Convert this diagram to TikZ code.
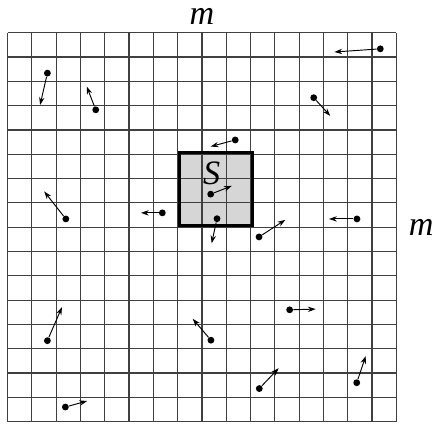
\documentclass[tikz,border=0pt]{standalone}
\usepackage{fontspec}
\setmainfont{Liberation Serif}
\usetikzlibrary{arrows.meta}

\begin{document}
\begin{tikzpicture}[x=0.5cm,y=0.5cm,pt/.style={circle,fill,inner sep=0pt,minimum size=4pt},vel/.style={-{Stealth[length=1.6mm,width=1.1mm]},line width=0.55pt},lbl/.style={font=\fontsize{20}{24}\selectfont\itshape,inner sep=0pt}]
      \useasboundingbox (-0.31,-0.095) rectangle (17.55,17.35);
      \fill[black!16] (7,8) rectangle (10,11);
      \draw[black!75,line width=0.7pt,step=0.5cm] (0,0) grid (16,16);
      \node[draw=black,line width=1.8pt,minimum size=1.5cm,inner sep=0pt,anchor=south west] (box) at (7,8) {};
      \node[lbl] (mtop) at (8,16.68) {m}; \node[lbl] (mright) at (17.02,8.0) {m}; \node[lbl] (s) at (8.4,10.2) {S};
      % particles and their velocities
      \node[pt] (p1) at (1.64,14.34) {}; \coordinate (t1) at (1.34,13.03); \node[pt] (p2) at (3.63,12.83) {}; \coordinate (t2) at (3.26,13.79);
      \node[pt] (p3) at (2.40,8.34) {}; \coordinate (t3) at (1.51,9.47); \node[pt] (p4) at (6.37,8.59) {}; \coordinate (t4) at (5.49,8.59);
      \node[pt] (p5) at (9.37,11.59) {}; \coordinate (t5) at (8.36,11.32); \node[pt] (p6) at (8.36,9.36) {}; \coordinate (t6) at (9.23,9.70);
      \node[pt] (p7) at (8.62,8.35) {}; \coordinate (t7) at (8.40,7.34); \node[pt] (p8) at (10.35,7.60) {}; \coordinate (t8) at (11.43,8.30);
      \node[pt] (p9) at (15.34,15.34) {}; \coordinate (t9) at (13.45,15.21); \node[pt] (p10) at (12.60,13.33) {}; \coordinate (t10) at (13.28,12.58);
      \node[pt] (p11) at (14.38,8.34) {}; \coordinate (t11) at (13.23,8.34); \node[pt] (p12) at (1.64,3.33) {}; \coordinate (t12) at (2.24,4.71);
      \node[pt] (p13) at (8.37,3.35) {}; \coordinate (t13) at (7.62,4.23); \node[pt] (p14) at (2.38,0.60) {}; \coordinate (t14) at (3.28,0.85);
      \node[pt] (p15) at (11.61,4.60) {}; \coordinate (t15) at (12.68,4.63); \node[pt] (p16) at (10.36,1.36) {}; \coordinate (t16) at (11.16,2.20);
      \node[pt] (p17) at (14.37,1.60) {}; \coordinate (t17) at (14.74,2.70);
      \draw[vel] (p1)--(t1); \draw[vel] (p2)--(t2); \draw[vel] (p3)--(t3); \draw[vel] (p4)--(t4); \draw[vel] (p5)--(t5); \draw[vel] (p6)--(t6);
      \draw[vel] (p7)--(t7); \draw[vel] (p8)--(t8); \draw[vel] (p9)--(t9); \draw[vel] (p10)--(t10); \draw[vel] (p11)--(t11); \draw[vel] (p12)--(t12);
      \draw[vel] (p13)--(t13); \draw[vel] (p14)--(t14); \draw[vel] (p15)--(t15); \draw[vel] (p16)--(t16); \draw[vel] (p17)--(t17);
    \end{tikzpicture}
\end{document}
